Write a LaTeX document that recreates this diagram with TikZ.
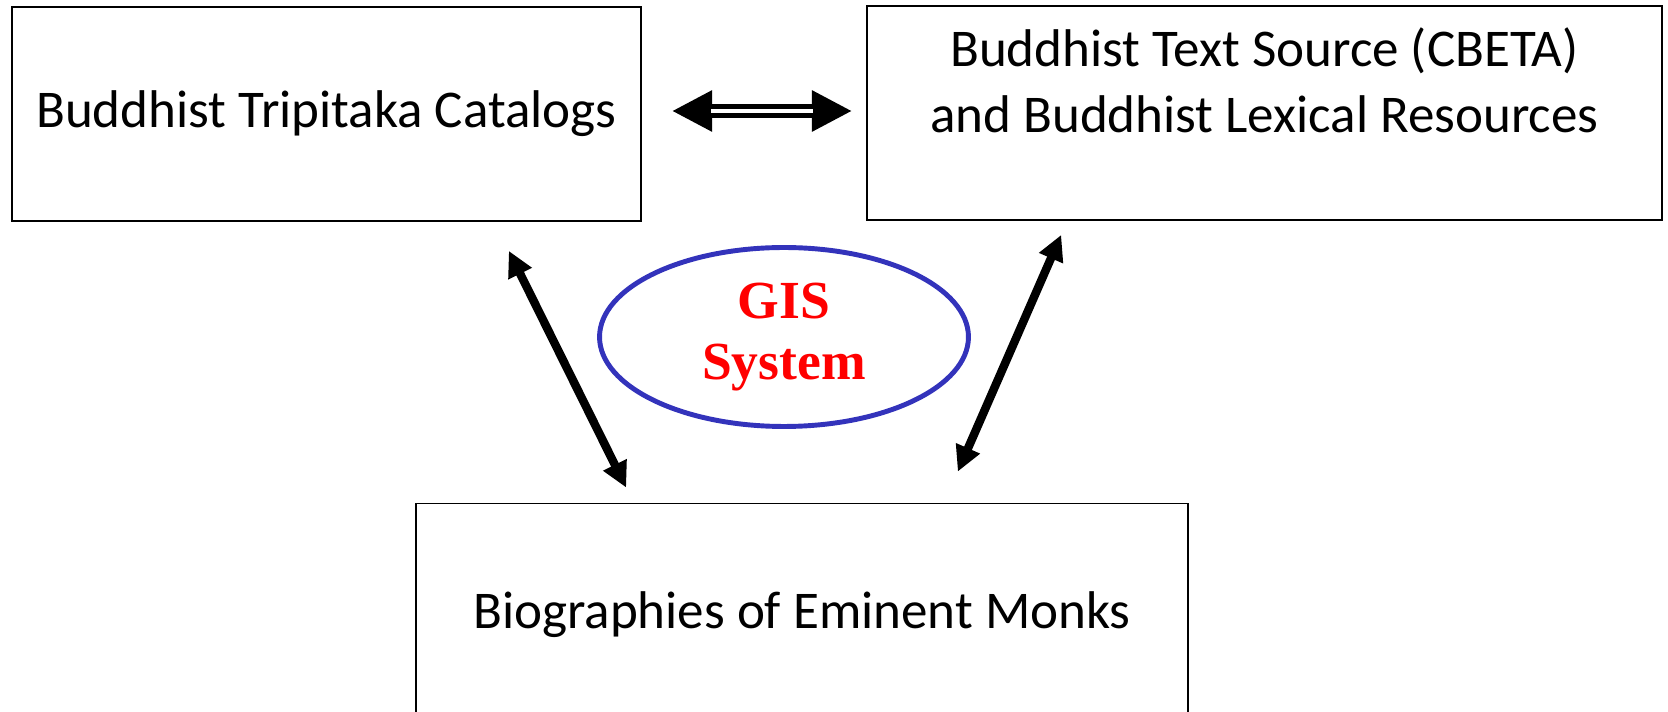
\documentclass[tikz,border=0pt]{standalone}
\usepackage{fontspec}
\setmainfont{Carlito}
\newfontfamily\gisfont{Liberation Serif}
\usetikzlibrary{positioning,shapes.geometric,arrows.meta,calc}
\definecolor{gisblue}{RGB}{51,51,187}
\definecolor{gisred}{RGB}{255,0,0}

\begin{document}
\begin{tikzpicture}[x=0.02cm, y=0.02cm,
  boxtext/.style={inner sep=0pt, align=center, font=\fontsize{30.2}{37.5}\selectfont},
  box/.style={boxtext, draw=black, line width=1pt, rectangle},
  gis/.style={draw=gisblue, line width=2.8pt, ellipse, inner sep=0pt, minimum width=7.38cm, minimum height=3.58cm, text=gisred, align=center, font=\gisfont\bfseries\fontsize{30.5}{35}\selectfont},
  biarrow/.style={{Triangle[length=14.5pt,width=14pt]}-{Triangle[length=14.5pt,width=14pt]}, line width=4.8pt},
  dblarrow/.style={{Triangle[length=23pt,width=22pt]}-{Triangle[length=23pt,width=22pt]}, line width=7.6pt},
  dblgap/.style={white, line width=2.8pt, shorten <=22.5pt, shorten >=22.5pt}]
\useasboundingbox (0,0) rectangle (1668,-712);
\clip (0,0) rectangle (1668,-712);

\node[box, minimum width=12.58cm, minimum height=4.28cm] (catalogs) at (326.5,-114) {Buddhist Tripitaka Catalogs};
\node[box, minimum width=15.9cm, minimum height=4.28cm] (cbeta) at (1264.5,-113) {};
\node[boxtext, below=0.45cm of cbeta.north] (cbetatext) {Buddhist Text Source (CBETA)\\and Buddhist Lexical Resources};
\node[box, minimum width=15.44cm, minimum height=4.44cm] (monks) at (802,-614.5) {Biographies of Eminent Monks};
\node[gis] (gis) at (784,-337) {GIS\\System};

\draw[dblarrow] ($(catalogs.east)+(30,3)$) -- ($(cbeta.west)+(-14,2)$);
\draw[dblgap] ($(catalogs.east)+(30,3)$) -- ($(cbeta.west)+(-14,2)$);
\draw[biarrow] ($(catalogs.south east)+(-133,-29)$) -- ($(monks.north west)+(211,15)$);
\draw[biarrow] ($(cbeta.south west)+(195,-14)$) -- ($(monks.north east)+(-231,31)$);
\end{tikzpicture}
\end{document}
